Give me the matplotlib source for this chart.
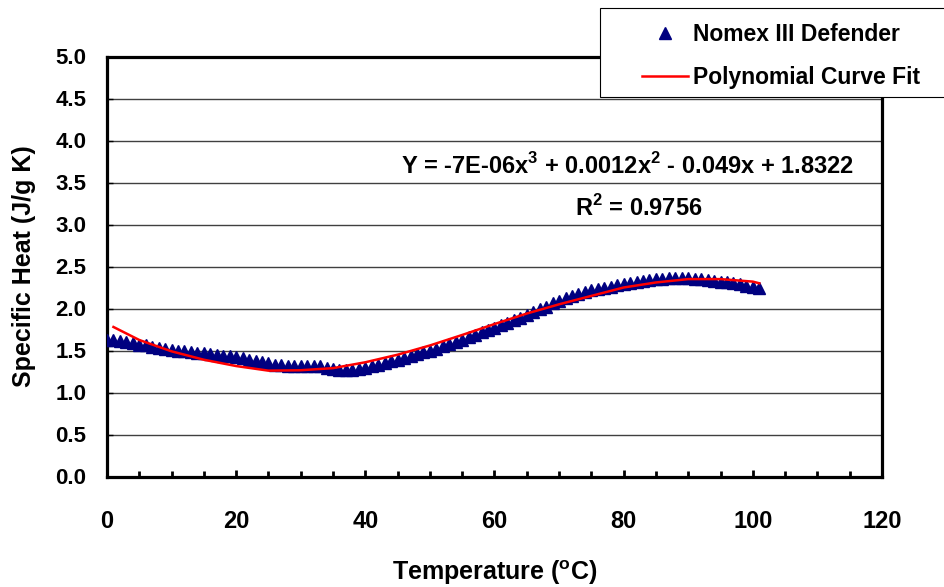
import matplotlib
matplotlib.use('Agg')
import matplotlib.pyplot as plt
from matplotlib.patches import Rectangle
from matplotlib.ticker import MultipleLocator

plt.rcParams['font.family'] = ['Liberation Sans', 'DejaVu Sans']
plt.rcParams['font.weight'] = 'bold'
plt.rcParams['mathtext.fontset'] = 'custom'
plt.rcParams['mathtext.rm'] = 'Liberation Sans:bold'
plt.rcParams['mathtext.bf'] = 'Liberation Sans:bold'

# Measured specific heat, one reading per degree
temp = list(range(0, 102))
cp = [1.62, 1.62, 1.61, 1.60, 1.59, 1.57, 1.56, 1.54, 1.53, 1.52,
      1.51, 1.50, 1.49, 1.48, 1.47, 1.47, 1.46, 1.45, 1.44, 1.43,
      1.42, 1.41, 1.39, 1.38, 1.36, 1.35, 1.33, 1.33, 1.32, 1.32,
      1.32, 1.32, 1.31, 1.31, 1.29, 1.28, 1.27, 1.27, 1.27, 1.28,
      1.29, 1.31, 1.33, 1.35, 1.37, 1.39, 1.41, 1.44, 1.46, 1.48,
      1.50, 1.52, 1.55, 1.58, 1.60, 1.63, 1.66, 1.69, 1.72, 1.74,
      1.77, 1.80, 1.83, 1.86, 1.89, 1.92, 1.96, 1.99, 2.02, 2.06,
      2.09, 2.12, 2.15, 2.17, 2.20, 2.22, 2.23, 2.25, 2.26, 2.28,
      2.29, 2.30, 2.32, 2.33, 2.34, 2.35, 2.35, 2.36, 2.36, 2.36,
      2.36, 2.35, 2.35, 2.34, 2.33, 2.32, 2.31, 2.30, 2.29, 2.27,
      2.26, 2.25]

# Polynomial trend line as drawn
fit_temp = [1, 5, 10, 15, 20, 25, 30, 35, 40, 45, 50, 55,
            60, 65, 70, 75, 80, 85, 90, 95, 100, 101]
fit_cp = [1.78, 1.625, 1.49, 1.39, 1.315, 1.26, 1.265, 1.29, 1.36, 1.45, 1.56, 1.685,
          1.815, 1.94, 2.05, 2.15, 2.25, 2.31, 2.35, 2.35, 2.32, 2.30]

equation = r'Y = -7E-06x$^{3}$ + 0.0012x$^{2}$ - 0.049x + 1.8322'
r_squared = r'R$^{2}$ = 0.9756'

fig = plt.figure(figsize=(9.45, 5.87), dpi=100)
ax = fig.add_axes([107/945, 1 - 476.5/587, 775/945, 420/587])

ax.plot(temp, cp, linestyle='none', marker='^', markersize=8.5,
        color='#000080', label='Nomex III Defender', zorder=3)
ax.plot(fit_temp, fit_cp, color='red', linewidth=1.8,
        label='Polynomial Curve Fit', zorder=4)

ax.set_xlim(0, 120)
ax.set_ylim(0, 5)
ax.xaxis.set_major_locator(MultipleLocator(20))
ax.xaxis.set_minor_locator(MultipleLocator(5))
ax.yaxis.set_major_locator(MultipleLocator(0.5))
ax.yaxis.set_major_formatter(matplotlib.ticker.FormatStrFormatter('%.1f'))

ax.grid(axis='y', color='#404040', linewidth=1)
ax.set_axisbelow(True)
for s in ax.spines.values():
    s.set_linewidth(2.3)
    s.set_color('black')

ax.tick_params(axis='x', which='major', direction='in', length=5, width=2,
               labelsize=17, pad=24)
ax.tick_params(axis='x', which='minor', direction='in', length=4, width=2)
ax.tick_params(axis='y', direction='in', length=4, width=1, labelsize=16, pad=15)

ax.set_xlabel(r'Temperature ($^{\mathrm{o}}$C)', fontsize=18, fontweight='bold')
ax.set_ylabel('Specific Heat (J/g K)', fontsize=18, fontweight='bold')
ax.xaxis.set_label_coords(0.5, -0.195)
ax.yaxis.set_label_coords(-0.092, 0.5)

ax.text(0.672, 0.739, equation, transform=ax.transAxes, ha='center', va='center',
        fontsize=17, fontweight='bold')
ax.text(0.686, 0.64, r_squared, transform=ax.transAxes, ha='center', va='center',
        fontsize=17, fontweight='bold')

# legend box sits partly outside the plot
fig.patches.append(Rectangle((600/945, 1 - 97/587), 345/945, 89/587,
                             transform=fig.transFigure, facecolor='white',
                             edgecolor='black', linewidth=0.8, zorder=5))
leg = fig.legend(loc='center left', bbox_to_anchor=(642/945, 1 - 56/587),
                 frameon=False, fontsize=16.5, handlelength=2.0,
                 handletextpad=0.22, labelspacing=0.85, borderpad=0,
                 borderaxespad=0)
leg.set_zorder(6)

fig.savefig('out.png', dpi=100)
